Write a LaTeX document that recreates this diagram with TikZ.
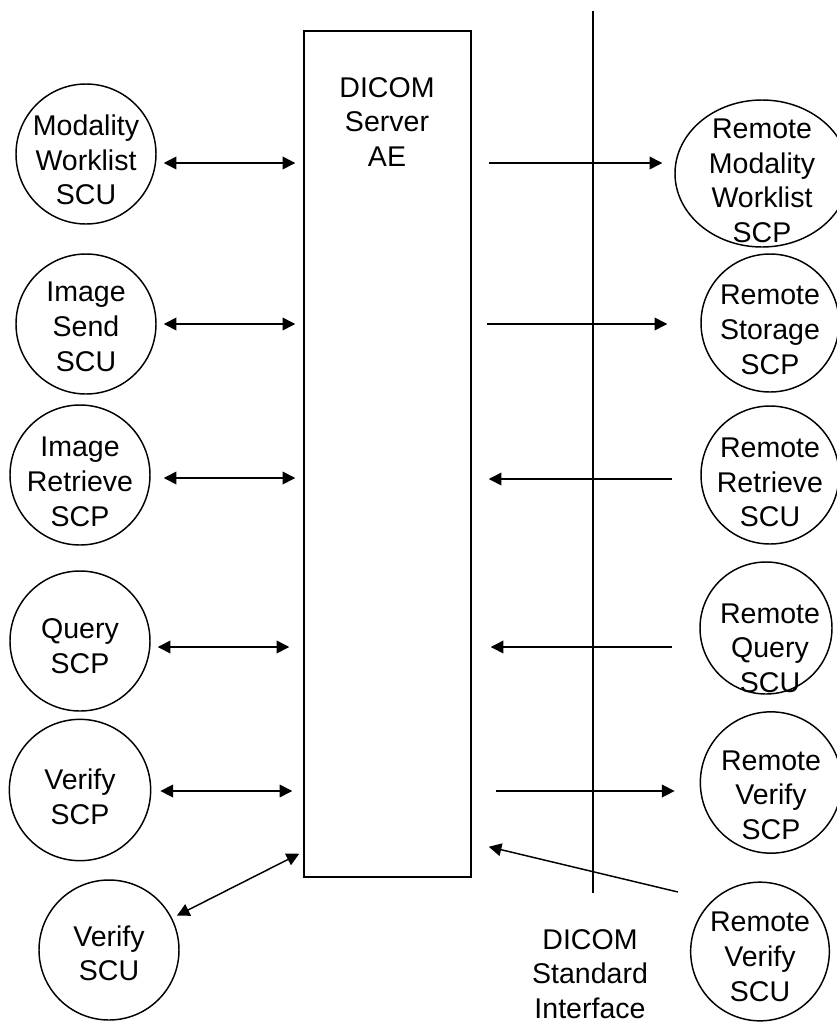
\documentclass[tikz,border=0pt]{standalone}
\usepackage{fontspec}
\setmainfont{Liberation Sans}
\usetikzlibrary{arrows.meta,shapes.geometric}

\begin{document}
\begin{tikzpicture}[x=0.75pt,y=-0.75pt,line width=1.1pt,
    unit/.style={circle,draw,minimum size=105pt,inner sep=0pt},
    tag/.style={font=\fontsize{21.4pt}{26pt}\selectfont,align=center},
    >={Triangle[length=9.5pt,width=9.5pt]}]
      \useasboundingbox (0,0) rectangle (837,1025);
      \draw
        (387.5,454) node[draw,minimum width=125.25pt,minimum height=634.5pt,inner sep=0pt] (server){}
        (387,122) node[tag] (aetag){DICOM\\Server\\AE}
        (590,974) node[tag] (ifacetag){DICOM\\Standard\\Interface}
        (86,154) node[unit,label={[tag,yshift=-4.5pt]center:Modality\\Worklist\\SCU}] (mwscu){}
        (86,324) node[unit,label={[tag,yshift=-2pt]center:Image\\Send\\SCU}] (sendscu){}
        (80,475) node[unit,label={[tag,yshift=-5pt]center:Image\\Retrieve\\SCP}] (retscp){}
        (80,641) node[unit,label={[tag,yshift=-4pt]center:Query\\SCP}] (qryscp){}
        (80,790) node[unit,minimum size=106pt,label={[tag,yshift=-5pt]center:Verify\\SCP}] (vfyscp){}
        (109,950) node[unit,label={[tag,yshift=-2.5pt]center:Verify\\SCU}] (vfyscu){}
        (762,173.5) node[unit,ellipse,minimum width=130.5pt,minimum height=110.25pt,label={[tag,yshift=-5.5pt]center:Remote\\Modality\\Worklist\\SCP}] (rmwscp){}
        (770,323) node[unit,minimum size=103.5pt,label={[tag,yshift=-5pt]center:Remote\\Storage\\SCP}] (rstoscp){}
        (770,475) node[unit,minimum size=103.5pt,label={[tag,yshift=-5.5pt]center:Remote\\Retrieve\\SCU}] (rretscu){}
        (766,628) node[unit,minimum size=99pt,label={[tag,xshift=3pt,yshift=-15pt]center:Remote\\Query\\SCU}] (rqryscu){}
        (771,782.5) node[unit,minimum size=106pt,label={[tag,yshift=-9.5pt]center:Remote\\Verify\\SCP}] (rvfyscp){}
        (760,951.5) node[unit,minimum size=104pt,label={[tag,yshift=-4pt]center:Remote\\Verify\\SCU}] (rvfyscu){};
      \draw (593,11) -- (593,893);
      \begin{scope}[<->]
        \draw ([shift={(7,9)}]mwscu.east) to ([shift={(-8,9)}]mwscu.east -| server.west);
        \draw ([shift={(7,0)}]sendscu.east) to ([shift={(-8,0)}]sendscu.east -| server.west);
        \draw ([shift={(13,3)}]retscp.east) to ([shift={(-8,3)}]retscp.east -| server.west);
        \draw ([shift={(7,6)}]qryscp.east) to ([shift={(-14,6)}]qryscp.east -| server.west);
        \draw ([shift={(9,1)}]vfyscp.east) to ([shift={(-11,1)}]vfyscp.east -| server.west);
        \draw[shorten <=4pt] (vfyscu) to ([shift={(-4,-24)}]server.south west);
      \end{scope}
      \begin{scope}[->]
        \draw ([shift={(17,-10.5)}]rmwscp.west -| server.east) to ([shift={(-12,-10.5)}]rmwscp.west);
        \draw ([shift={(15,1)}]rstoscp.west -| server.east) to ([shift={(-33,1)}]rstoscp.west);
        \draw ([shift={(-28,4)}]rretscu.west) to ([shift={(17,4)}]rretscu.west -| server.east);
        \draw ([shift={(-27,19)}]rqryscu.west) to ([shift={(19,19)}]rqryscu.west -| server.east);
        \draw ([shift={(24,8.5)}]rvfyscp.west -| server.east) to ([shift={(-25,8.5)}]rvfyscp.west);
        \draw ([shift={(-12,-59.5)}]rvfyscu.west) to ([shift={(17,-31)}]server.south east);
      \end{scope}
    \end{tikzpicture}
\end{document}
